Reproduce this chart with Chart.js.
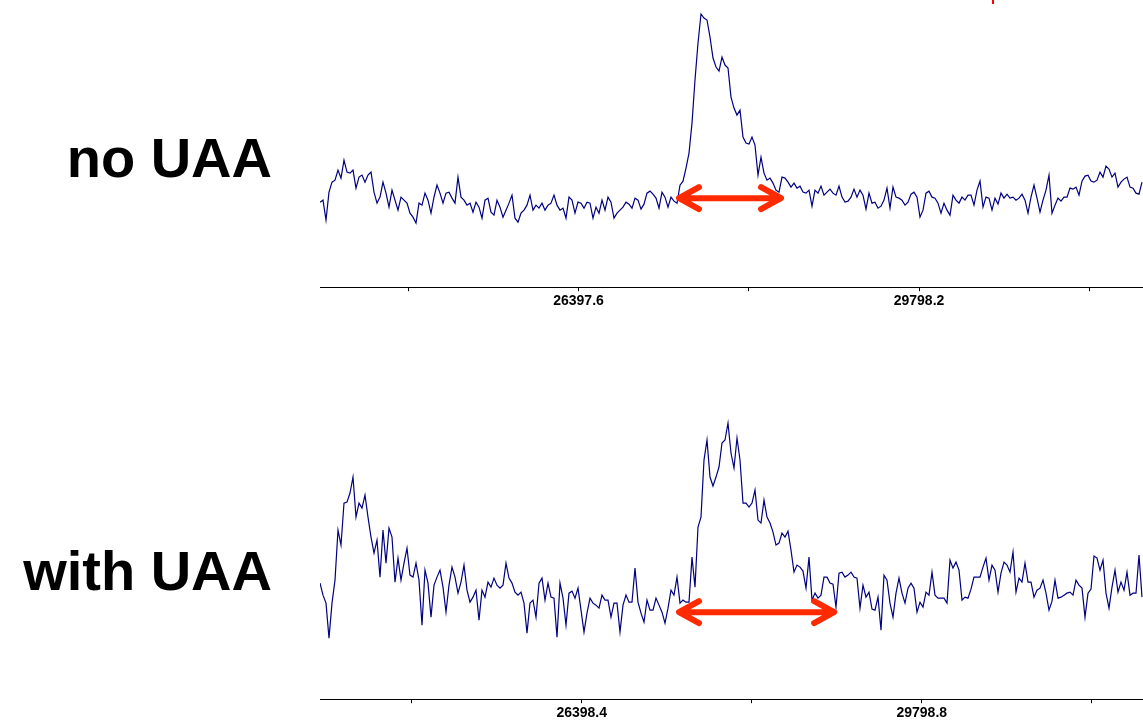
<!DOCTYPE html>
<html>
<head>
<meta charset="utf-8">
<script src="https://cdn.jsdelivr.net/npm/chart.js@4.4.1/dist/chart.umd.min.js"></script>
<style>
  body { margin: 0; background: #fff; width: 1143px; height: 721px; position: relative; overflow: hidden; font-family: Arial, "Liberation Sans", sans-serif }
  .lbl { position: absolute; left: 0; width: 272px; text-align: right; font-weight: bold; font-size: 56px; line-height: 56px; color: #000; white-space: nowrap }
  canvas { position: absolute }
</style>
</head>
<body>
<div class="lbl" style="top:130px">no UAA</div>
<div class="lbl" style="top:543px">with UAA</div>
<div style="position:absolute;left:992px;top:0;width:2px;height:4px;background:#f00"></div>
<canvas id="chartNoUaa" width="823" height="312" style="left:320px;top:0"></canvas>
<canvas id="chartWithUaa" width="823" height="324" style="left:320px;top:400px"></canvas>
<script>
// spectrum 1 (no UAA): m/z sampling + intensities
const noUaaStart = 23816
const noUaaStep = 29.96
const noUaaValues = [
  85,87,67,95,105,107,117,109,127,115, 114,117,99,110,112,105,112,115,95,84,
  90,105,94,80,97,87,77,90,87,84, 74,70,64,84,82,94,87,74,90,102,
  94,84,94,95,89,84,110,90,87,82, 84,75,85,80,69,87,89,75,72,87,
  80,70,77,84,92,69,65,74,77,82, 92,77,82,79,84,77,82,84,92,82,
  77,79,69,90,87,74,85,84,79,85, 84,69,
  80,74,87,77,90,85,69,74,77,80, 85,83,79,89,87,78,83,94,96,93,
  89,79,95,90,80,90,86,84,102,106, 119,134,164,207,244,273,269,267,250,229,
  220,216,230,222,219,190,179,172,177,150, 144,143,150,142,112,130,114,107,109,104,
  97,95,110,109,105,100,104,99,101,95, 94,97,81,97,94,101,92,95,98,94,
  92,101,90,85,86,90,98,90,97,92, 78,94,
  84,85,79,81,87,99,79,100,90,89, 87,82,85,93,95,90,70,77,94,96,
  90,89,84,74,84,77,72,92,87,84, 90,87,92,92,82,97,106,80,90,89,
  77,89,83,94,89,93,89,90,87,89, 93,87,74,90,102,89,75,87,97,112,
  74,82,89,86,90,90,99,98,100,92, 106,111,112,106,105,107,115,110,121,118,
  110,114,100,105,108,110,100,99,94,93, 105
]
const noUaaTicks = [24697.3, 26397.6, 28097.9, 29798.2, 31498.5]
const noUaaTickLabels = ['', '26397.6', '', '29798.2', '']
const noUaaArrow = [27391, 28430, 89]

// spectrum 2 (with UAA)
const withUaaStart = 23781
const withUaaStep = 30.0
const withUaaValues = [
  116,104,96,61,96,119,169,154,196,197, 206,222,182,196,191,204,182,162,146,159,
  122,169,136,171,162,117,141,119,136,151, 124,122,136,119,74,129,116,82,114,122,
  129,112,87,114,132,122,106,117,134,109, 97,102,109,79,109,102,117,112,121,114,
  111,114,136,121,116,107,104,107,96,66, 96,99,82,116,121,99,116,102,101,62,
  116,101,74,106,108,101,111,89,67,86, 101,96,
  94,91,104,99,99,82,96,96,67,94, 104,97,97,131,97,86,77,99,89,89,
  101,94,87,76,91,109,104,122,96,99, 97,97,142,112,172,182,239,259,222,213,
  222,232,256,259,276,246,231,261,239,196, 196,192,196,209,179,176,199,182,176,167,
  154,156,166,162,168,149,127,134,132,128, 111,142,99,106,101,104,122,122,116,115,
  92,126,127,122,124,127,122,121,91,114, 102,107,
  90,89,102,69,124,119,96,82,106,121, 106,96,111,116,111,87,97,92,107,104,
  127,104,101,101,101,96,139,131,137,129, 99,102,101,110,122,122,122,132,141,119,
  134,129,107,126,137,134,127,147,107,121, 117,136,117,117,102,109,111,119,106,89,
  98,119,101,102,104,106,107,104,119,114, 111,82,106,110,143,141,129,139,106,91,
  112,129,107,117,109,127,104,106,106,144, 102
]
const withUaaTicks = [24698.2, 26398.4, 28098.6, 29798.8, 31499.0]
const withUaaTickLabels = ['', '26398.4', '', '29798.8', '']
const withUaaArrow = [27361, 28932, 87]

// double headed red arrow between two m/z values
const arrowPlugin = {
  id: 'arrow',
  afterDatasetsDraw(chart, args, opts) {
    const ctx = chart.ctx
    const xs = chart.scales.x
    const ys = chart.scales.y
    const x1 = xs.getPixelForValue(opts.from)
    const x2 = xs.getPixelForValue(opts.to)
    const y = ys.getPixelForValue(opts.y)
    const hl = 21, hw = 11
    ctx.save()
    ctx.strokeStyle = '#ff2a00'
    ctx.lineWidth = 6
    ctx.lineCap = 'round'
    ctx.lineJoin = 'round'
    ctx.beginPath()
    ctx.moveTo(x1 + 2, y)
    ctx.lineTo(x2 - 2, y)
    ctx.moveTo(x1 + hl, y - hw)
    ctx.lineTo(x1 + 1, y)
    ctx.lineTo(x1 + hl, y + hw)
    ctx.moveTo(x2 - hl, y - hw)
    ctx.lineTo(x2 - 1, y)
    ctx.lineTo(x2 - hl, y + hw)
    ctx.stroke()
    ctx.restore()
  }
}

function drawSpectrum(id, start, step, values, ticks, tickLabels, arrow, yMax) {
  const points = values.map((v, i) => ({ x: start + i * step, y: v }))
  const xMin = start
  const xMax = start + 823 * step / 3
  const ctx = document.getElementById(id).getContext('2d')
  new Chart(ctx, {
    type: 'line',
    data: {
      datasets: [{
        data: points,
        borderColor: '#000080',
        borderWidth: 1.2,
        pointRadius: 0,
        tension: 0,
        fill: false
      }]
    },
    options: {
      responsive: false,
      animation: false,
      events: [],
      layout: { padding: 0 },
      plugins: {
        legend: { display: false },
        tooltip: { enabled: false },
        arrow: { from: arrow[0], to: arrow[1], y: arrow[2] }
      },
      scales: {
        x: {
          type: 'linear',
          min: xMin,
          max: xMax,
          afterBuildTicks: scale => { scale.ticks = ticks.map(v => ({ value: v })) },
          grid: { drawOnChartArea: false, drawTicks: true, tickLength: 4, color: '#000' },
          border: { color: '#000', width: 1 },
          ticks: {
            autoSkip: false,
            maxRotation: 0,
            padding: 2,
            color: '#000',
            font: { family: 'Arial', size: 14, weight: 'bold' },
            callback: (val, i) => tickLabels[i]
          }
        },
        y: { display: false, min: 0, max: yMax }
      }
    },
    plugins: [arrowPlugin]
  })
}

drawSpectrum('chartNoUaa', noUaaStart, noUaaStep, noUaaValues, noUaaTicks, noUaaTickLabels, noUaaArrow, 287)
drawSpectrum('chartWithUaa', withUaaStart, withUaaStep, withUaaValues, withUaaTicks, withUaaTickLabels, withUaaArrow, 299)
</script>
</body>
</html>
